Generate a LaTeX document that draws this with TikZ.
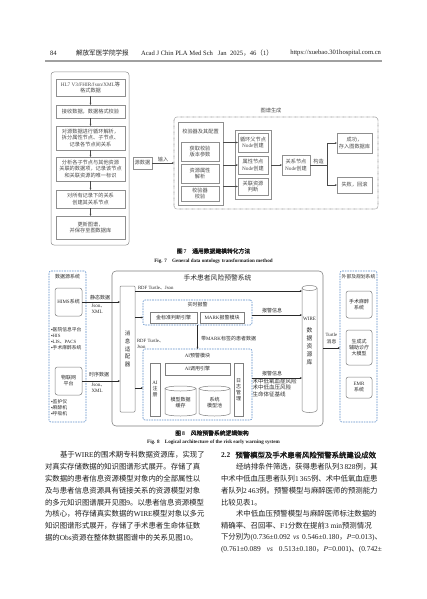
\documentclass[tikz,border=0pt]{standalone}
\usepackage{fontspec}
\setmainfont{Liberation Serif}
\newfontfamily\cjkfam{Noto Sans CJK SC}[BoldFont={Noto Sans CJK SC},BoldFeatures={FakeBold=2}]
\usetikzlibrary{arrows.meta}
\XeTeXlinebreaklocale "zh"
\XeTeXlinebreakskip=0pt plus 1fil
\XeTeXinterchartokenstate=1
\newXeTeXintercharclass\cjkcls
\makeatletter
\def\setcjkrange#1#2{\count@=#1\relax
 \loop\XeTeXcharclass\count@=\cjkcls
 \ifnum\count@<#2\relax\advance\count@\@ne\repeat}
\setcjkrange{"4E00}{"9FFF}
\setcjkrange{"3000}{"303F}
\setcjkrange{"FF00}{"FFEF}
\makeatother
\XeTeXinterchartoks 0 \cjkcls = {\cjkfam}
\XeTeXinterchartoks 4095 \cjkcls = {\cjkfam}
\XeTeXinterchartoks \cjkcls 0 = {\rmfamily}
\XeTeXinterchartoks \cjkcls 4095 = {\rmfamily}
\newcommand\jline[2]{\makebox[#1][s]{#2}}
\definecolor{f7ln}{HTML}{8F8F8F}
\definecolor{f7tx}{HTML}{4A4A4A}
\definecolor{f8ln}{HTML}{7F7F7F}
\definecolor{f8bl}{HTML}{5B8DC9}
\definecolor{f8tx}{HTML}{2A2A2A}
\definecolor{bodytx}{HTML}{1E1E1E}
\definecolor{rulec}{HTML}{A0A0A0}
\tikzset{
 hdrtx/.style={font=\fontsize{6.6}{7}\selectfont, text=bodytx},
 tsev/.style={font=\fontsize{5.2}{6.3}\selectfont, text=f7tx, align=center},
 bsev/.style={tsev, draw=f7ln, line width=0.5pt},
 asev/.style={draw=f7tx, line width=0.45pt, -{Stealth[length=2.2pt,width=1.8pt]}},
 lsev/.style={draw=f7tx, line width=0.45pt},
 teig/.style={font=\fontsize{5}{6}\selectfont, text=f8tx, align=center},
 beig/.style={teig, draw=f8ln, line width=0.5pt},
 rbeig/.style={beig, rounded corners=2.5pt},
 bleig/.style={draw=f8bl, line width=0.6pt, dash pattern=on 1.6pt off 1pt, rounded corners=2pt},
 aeig/.style={draw=f8tx, line width=0.45pt, -{Stealth[length=2.2pt,width=1.8pt]}},
 cyleig/.style={draw=f8ln, line width=0.5pt},
 capzh/.style={font=\bfseries\fontsize{5.8}{6.5}\selectfont, text=bodytx},
 capen/.style={font=\bfseries\fontsize{5.1}{6}\selectfont, text=bodytx},
 bodyln/.style={font=\fontsize{7.4}{9}\selectfont, text=bodytx, anchor=west},
}
\begin{document}
\begin{tikzpicture}[x=1pt,y=-1pt, every node/.style={inner sep=0pt, outer sep=0pt}]
\useasboundingbox (0,0) rectangle (427,599);
\fill[white] (0,0) rectangle (427,599);
% header
\node[hdrtx, anchor=west] (pg) at (50,53) {84};
\node[hdrtx, anchor=west] (jn) at (76,53) {解放军医学院学报};
\node[hdrtx, anchor=west] (je) at (141,53) {Acad J Chin PLA Med Sch\ \ \ Jan\ \ 2025，46（1）};
\node[hdrtx, anchor=east] (url) at (381,53) {https://xuebao.301hospital.com.cn};
\draw[draw=rulec, line width=1.8pt] (45,61) -- (382,61);
% ---------------- Fig 7
\node[draw=f7ln, line width=0.5pt, rounded corners=3pt, minimum width=78pt, minimum height=173pt] (lc) at (90,158.5) {};
\node[bsev, minimum width=69pt, minimum height=17pt] (b1) at (90.5,87.5) {HL7 V3/FHIR/Json/XML等\\格式数据};
\node[bsev, minimum width=69pt, minimum height=13pt] (b2) at (90.5,111.5) {接收数据，数据格式校验};
\node[bsev, minimum width=69pt, minimum height=24pt] (b3) at (90.5,138) {对源数据进行循环解析，\\拆分属性节点、子节点、\\记录各节点间关系};
\node[bsev, minimum width=69pt, minimum height=24pt] (b4) at (90.5,169) {分析各子节点与其他资源\\关联的数据项，记录该节点\\和关联资源的唯一标识};
\node[bsev, minimum width=69pt, minimum height=18pt] (b5) at (90.5,199) {对所有记录下的关系\\创建其关系节点};
\node[bsev, minimum width=69pt, minimum height=23pt] (b6) at (90.5,227.5) {更新图谱，\\并保存至图数据库};
\foreach \a/\b in {b1/b2,b2/b3,b3/b4,b4/b5,b5/b6} \draw[asev] (\a.south) -- (\b.north);
\node[bsev, minimum width=19pt, minimum height=12pt] (src) at (142.5,163) {源数据};
\node[draw=f7ln, line width=0.6pt, dash pattern=on 0.6pt off 0.6pt, rounded corners=3pt, minimum width=204pt, minimum height=92pt] (tg) at (276,163) {};
\node[tsev] (tgl) at (271,111) {图谱生成};
\draw[asev] (src.east) -- (src.east -| tg.west) node[midway, above=1.5pt, tsev] (inp) {输入};
\node[bsev, minimum width=45pt, minimum height=83pt] (vc) at (200.5,163.5) {};
\node[tsev] (vct) at (200.5,132) {校验器及其配置};
\node[bsev, minimum width=38pt, minimum height=19pt] (i1) at (200,151.5) {获取校验\\版本参数};
\node[bsev, minimum width=38pt, minimum height=19pt] (i2) at (200,173.5) {资源属性\\解析};
\node[bsev, minimum width=38pt, minimum height=15pt] (i3) at (200,193.5) {校验器\\校验};
\node[bsev, minimum width=36pt, minimum height=69pt] (mc) at (253,164.5) {};
\node[bsev, minimum width=30pt, minimum height=19pt] (m1) at (253,142.5) {循环父节点\\Node创建};
\node[bsev, minimum width=30pt, minimum height=18pt] (m2) at (253,165) {属性节点\\Node创建};
\node[bsev, minimum width=30pt, minimum height=17pt] (m3) at (253,186.5) {关联资源\\判断};
\foreach \m in {m1,m2,m3} \draw[asev] (vc.east |- \m.west) -- (\m.west);
\node[bsev, minimum width=28pt, minimum height=20pt] (rn) at (296,165) {关系节点\\Node创建};
\draw[asev] (mc.east |- rn.west) -- (rn.west);
\node[bsev, minimum width=35pt, minimum height=20pt] (ok) at (354.5,143) {成功，\\存入图数据库};
\node[bsev, minimum width=35pt, minimum height=16pt] (fail) at (354.5,185) {失败，回滚};
\coordinate (br) at (327,165);
\draw[lsev] (rn.east) -- (br) node[midway, above=1.5pt, tsev] (gz) {构造};
\draw[asev] (br) |- (ok.west);
\draw[asev] (br) |- (fail.west);
\node[capzh] (c7) at (213.5,251) {图\,7\quad 通用数据建模转化方法};
\node[capen] (c7e) at (213.5,261) {Fig. 7\quad General data ontology transformation method};
% ---------------- Fig 8
\node[bleig, minimum width=37pt, minimum height=151pt] (dsrc) at (67.5,346.5) {};
\node[teig] (dsl) at (67.5,277) {数据源系统};
\node[rbeig, minimum width=27pt, minimum height=28pt] (hims) at (68.5,302) {HIMS系统};
\node[teig, anchor=west, align=left, font=\fontsize{4.8}{6}\selectfont] (hb) at (51,339) {▪医院信息平台\\▪HIS\\▪LIS、PACS\\▪手术麻醉系统};
\node[rbeig, minimum width=27pt, minimum height=28pt] (iot) at (68.5,381) {物联网\\平台};
\node[teig, anchor=west, align=left, font=\fontsize{4.8}{6}\selectfont] (ib) at (51,408) {▪监护仪\\▪麻醉机\\▪呼吸机};
\node[draw=f8ln, line width=0.55pt, rounded corners=4pt, minimum width=211pt, minimum height=155pt] (fr) at (217.5,348.5) {};
\node[teig, font=\fontsize{6.8}{7}\selectfont] (frt) at (217.5,278) {手术患者风险预警系统};
\node[beig, rounded corners=1pt, minimum width=15pt, minimum height=126pt, font=\fontsize{5.5}{7.6}\selectfont] (ma) at (127.5,349) {消\\息\\适\\配\\器};
\draw[aeig] (hims.east) -- (hims.east -| ma.west);
\node[teig, anchor=west] (sd) at (90,297.5) {静态数据};
\node[teig, anchor=north west, align=left] (sdj) at (91.5,304) {Json、\\XML};
\draw[aeig] (iot.east) -- (iot.east -| ma.west);
\node[teig, anchor=west] (ts) at (89,375) {时序数据};
\node[teig, anchor=north west, align=left] (tsj) at (91.5,383.5) {Json、\\XML};
% WIRE cylinder
\node[teig, minimum width=15pt, minimum height=126pt] (wire) at (309.5,349) {};
\draw[cyleig] (302,288) -- (302,410) arc[start angle=180, end angle=0, x radius=7.5, y radius=2.5] -- (317,288);
\draw[cyleig] (309.5,288) ellipse [x radius=7.5, y radius=2.5];
\node[teig] (wiret) at (309.5,319) {WIRE};
\node[teig, font=\fontsize{5.8}{8}\selectfont] (wirec) at (309.5,346) {数\\据\\资\\源\\库};
\coordinate (rdfy) at (0,291);
\draw[aeig] (ma.east |- rdfy) -- (wire.west |- rdfy);
\node[teig, anchor=south west, font=\fontsize{4.8}{6}\selectfont] (rdf1) at (138,289.5) {RDF Turtle、Json};
% realtime alarm
\node[bleig, minimum width=109pt, minimum height=25pt] (rt) at (197.5,312.5) {};
\node[teig] (rtt) at (197.5,305) {实时报警};
\node[beig, minimum width=47pt, minimum height=11pt] (qe) at (173.5,317.5) {金标准判断引擎};
\node[beig, minimum width=44pt, minimum height=11pt] (mk) at (222,317.5) {MARK报警模块};
\draw[aeig] (ma.east |- qe) -- (rt.west |- qe);
% AI module
\node[bleig, minimum width=109pt, minimum height=71pt] (ai) at (197.5,384.5) {};
\node[teig] (ait) at (197.5,356) {AI预警模块};
\node[beig, minimum width=10pt, minimum height=53pt] (reg) at (155,389.5) {AI\\注\\册};
\node[beig, minimum width=65pt, minimum height=12pt] (eng) at (197.5,369) {AI调用引擎};
\node[beig, minimum width=9pt, minimum height=53pt] (log) at (238.5,389.5) {日\\志\\管\\理};
\draw[cyleig] (165,388.5) -- (165,413.5) arc[start angle=180, end angle=0, x radius=15.5, y radius=2.5] -- (196,388.5);
\draw[cyleig] (180.5,388.5) ellipse [x radius=15.5, y radius=2.5];
\draw[cyleig] (199,388.5) -- (199,413.5) arc[start angle=180, end angle=0, x radius=15.5, y radius=2.5] -- (230,388.5);
\draw[cyleig] (214.5,388.5) ellipse [x radius=15.5, y radius=2.5];
\node[teig] (cache) at (180.5,403) {模型数据\\缓存};
\node[teig] (pool) at (214.5,403) {系统\\模型池};
\coordinate (aiy) at (0,388);
\draw[aeig] (ma.east |- aiy) -- (ai.west |- aiy);
\node[teig, anchor=north west, align=left, font=\fontsize{4.8}{6}\selectfont] (rdf2) at (137,339) {RDF Turtle、\\Json};
\draw[aeig] (rt.south) -- (ai.north);
\node[teig, anchor=west] (mkd) at (201,339) {带MARK标签的患者数据};
\coordinate (al1y) at (0,315);
\draw[aeig] (rt.east |- al1y) -- (wire.west |- al1y);
\node[teig] (al1) at (272,311) {报警信息};
\coordinate (al2y) at (0,378);
\draw[aeig] (ai.east |- al2y) -- (wire.west |- al2y);
\node[teig] (al2) at (272,374) {报警信息};
\node[teig, anchor=north west, align=left, font=\fontsize{5.5}{6.2}\selectfont] (risk) at (252.5,379) {术中低氧血症风险\\术中低血压风险\\生命体征基线};
% external
\node[bleig, minimum width=37pt, minimum height=151pt] (ext) at (358.5,346.5) {};
\node[teig, font=\fontsize{4.8}{6}\selectfont] (extl) at (358.5,277) {外部及规划系统};
\node[rbeig, minimum width=26pt, minimum height=27pt] (ane) at (359,304.5) {手术麻醉\\系统};
\node[rbeig, minimum width=26pt, minimum height=35pt] (llm) at (359,347.5) {生成式\\辅助诊疗\\大模型};
\node[rbeig, minimum width=26pt, minimum height=21pt] (emr) at (359,387.5) {EMR\\系统};
\coordinate (tty) at (0,348);
\draw[aeig] (fr.east |- tty) -- (ext.west |- tty);
\node[teig, font=\fontsize{4.8}{6.5}\selectfont] (ttl) at (331.5,338.5) {Turtle\\消息};
\node[capzh] (c8) at (212,433) {图\,8\quad 风险预警系统逻辑架构};
\node[capen] (c8e) at (213.5,442) {Fig. 8\quad Logical architecture of the risk early warning system};
% ---------------- body text
\node[bodyln] (L1) at (60,455) {\jline{146pt}{基于WIRE的围术期专科数据资源库，实现了}};
\node[bodyln] (L2) at (45,466.8) {\jline{161pt}{对真实存储数据的知识图谱形式展开。存储了真}};
\node[bodyln] (L3) at (45,478.6) {\jline{161pt}{实数据的患者信息资源模型对象内的全部属性以}};
\node[bodyln] (L4) at (45,490.4) {\jline{161pt}{及与患者信息资源具有链接关系的资源模型对象}};
\node[bodyln] (L5) at (45,502.2) {\jline{161pt}{的多元知识图谱展开见图9。以患者信息资源模型}};
\node[bodyln] (L6) at (45,514) {\jline{161pt}{为核心，将存储真实数据的WIRE模型对象以多元}};
\node[bodyln] (L7) at (45,525.8) {\jline{161pt}{知识图谱形式展开，存储了手术患者生命体征数}};
\node[bodyln] (L8) at (45,537.6) {据的Obs资源在整体数据图谱中的关系见图10。};
\node[bodyln, font=\bfseries\fontsize{7.4}{9}\selectfont] (R1) at (221,455) {2.2\hspace{0.7em}预警模型及手术患者风险预警系统建设成效};
\node[bodyln] (R2) at (236,466.8) {\jline{146pt}{经纳排条件筛选，获得患者队列3\,828例，其}};
\node[bodyln] (R3) at (221,478.6) {\jline{161pt}{中术中低血压患者队列1\,365例、术中低氧血症患}};
\node[bodyln] (R4) at (221,490.4) {\jline{161pt}{者队列2\,463例。预警模型与麻醉医师的预测能力}};
\node[bodyln] (R5) at (221,502.2) {比较见表1。};
\node[bodyln] (R6) at (236,514) {\jline{146pt}{术中低血压预警模型与麻醉医师标注数据的}};
\node[bodyln] (R7) at (221,525.8) {\jline{161pt}{精确率、召回率、F1分数在提前\mbox{3 min}预测情况}};
\node[bodyln] (R8) at (221,537.6) {\jline{161pt}{下分别为(0.736±0.092 \textit{vs} 0.546±0.180，\textit{P}=0.013)、}};
\node[bodyln] (R9) at (221,549.4) {\jline{161pt}{(0.761±0.089 \textit{vs} 0.513±0.180，\textit{P}=0.001)、(0.742±}};
\end{tikzpicture}
\end{document}
